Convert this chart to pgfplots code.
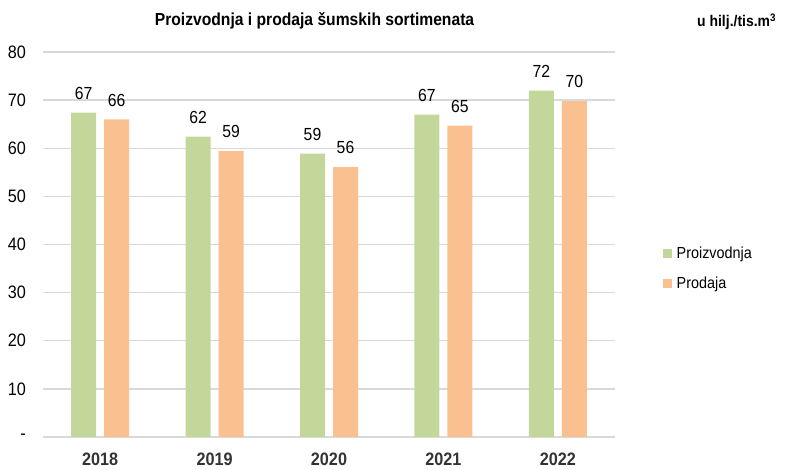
\documentclass[border=0pt]{standalone}
\usepackage{fontspec}
\setmainfont{Liberation Sans}[FakeStretch=0.9]
\usepackage{pgfplots}
\pgfplotsset{compat=1.18}
\definecolor{cgreen}{HTML}{C4D79B}
\definecolor{corange}{HTML}{FAC090}
\definecolor{cgrid}{HTML}{D9D9D9}
\begin{document}
\begin{tikzpicture}
\useasboundingbox (0,0) rectangle (786bp,470bp);
\begin{axis}[
  at={(43bp,33bp)}, anchor=south west,
  scale only axis, width=572bp, height=385bp,
  xmin=-0.5, xmax=4.5, ymin=0, ymax=80,
  ybar, bar width=25bp,
  axis line style={draw=none},
  ymajorgrids, major grid style={cgrid, line width=1.3bp},
  major tick length=0pt,
  xtick={0,...,4}, xticklabels={2018,2019,2020,2021,2022},
  ytick={0,10,...,80}, yticklabels={-,10,20,30,40,50,60,70,80},
  yticklabel style={anchor=east, inner sep=0pt, xshift=-17bp, font=\fontsize{18bp}{21bp}\selectfont},
  xticklabel style={anchor=north, inner sep=0pt, yshift=-16bp, font=\bfseries\fontsize{18bp}{21bp}\selectfont, text=black!80},
  /pgf/number format/assume math mode=true,
  nodes near coords={\pgfmathprintnumber[fixed,precision=0]{\pgfplotspointmeta}},
  nodes near coords style={anchor=south, inner sep=0pt, yshift=13bp, font=\fontsize{17.5bp}{20bp}\selectfont, text=black},
  legend style={draw=none, at={(1.083,0.4377)}, anchor=west, inner sep=0pt, row sep=13bp,
    font=\fontsize{16bp}{19bp}\selectfont, /tikz/every odd column/.style={column sep=3bp}},
  legend cell align=left,
  legend image code/.code={\fill[#1,draw=none] (0bp,-4.5bp) rectangle (9bp,4.5bp);},
]
\addplot[fill=cgreen, draw=none, bar shift=-16.5bp] coordinates {(0,67.4) (1,62.4) (2,58.9) (3,67.0) (4,72.0)};
\addplot[fill=corange, draw=none, bar shift=16.5bp] coordinates {(0,66.0) (1,59.4) (2,56.1) (3,64.7) (4,69.8)};
\legend{Proizvodnja, Prodaja}
\end{axis}
\node[anchor=base, font=\bfseries\fontsize{17.4bp}{20bp}\selectfont] at (314.5bp,444bp) {Proizvodnja i prodaja šumskih sortimenata};
\node[anchor=base west, inner sep=0pt, font=\bfseries\fontsize{15.5bp}{18bp}\selectfont] at (697bp,443.5bp) {u hilj./tis.m\textsuperscript{3}};
\end{tikzpicture}
\end{document}
